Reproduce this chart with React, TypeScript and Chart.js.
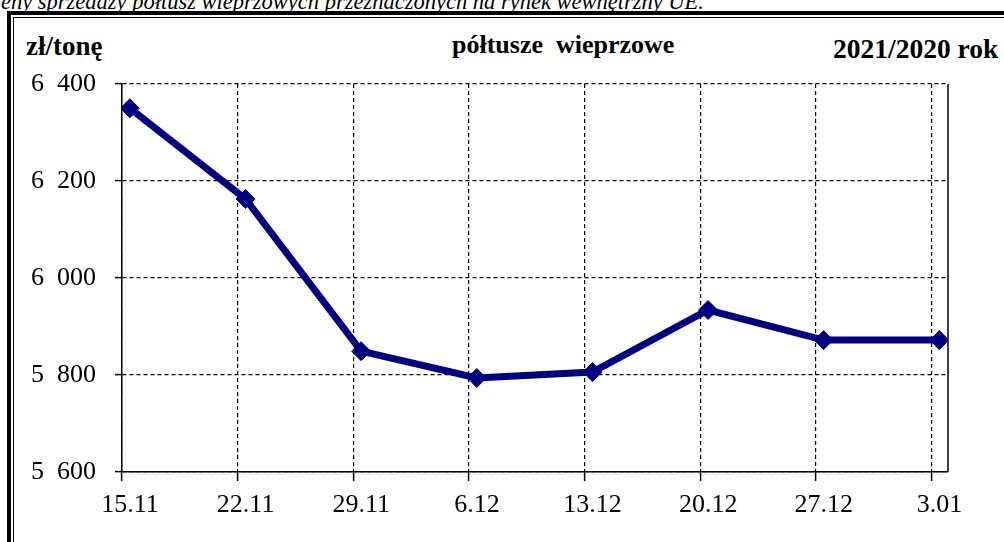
import React, { useEffect, useRef } from "react";
import { Chart, registerables } from "chart.js";

Chart.register(...registerables);

const CATEGORIES = ["15.11", "22.11", "29.11", "6.12", "13.12", "20.12", "27.12", "3.01"];
const PRICES = [6350, 6163, 5849, 5794, 5806, 5934, 5872, 5872];
const Y_MIN = 5600;
const Y_MAX = 6400;
const Y_STEP = 200;

const TITLE_TOP = "Ceny sprzedaży półtusz wieprzowych przeznaczonych na rynek wewnętrzny UE.";
const UNIT_LABEL = "zł/tonę";
const SERIES_LABEL = "półtusze  wieprzowe";
const PERIOD_LABEL = "2021/2020 rok";

// style constants (not data)
const GRID_SHIFT = 0.068; // gridlines sit slightly left of the points
const RIGHT_EXTRA = 0.075;
const SERIF = "'Liberation Serif', 'Times New Roman', serif";

function fmt(v: number): string {
  const th = Math.floor(v / 1000);
  const rest = String(v % 1000).padStart(3, "0");
  return th + "  " + rest;
}

const frameLines = {
  id: "frameLines",
  afterDraw(chart: any) {
    const { ctx, chartArea } = chart;
    ctx.save();
    ctx.strokeStyle = "#000";
    ctx.lineWidth = 1.5;
    ctx.setLineDash([]);
    ctx.beginPath();
    ctx.moveTo(chartArea.right, chartArea.top);
    ctx.lineTo(chartArea.right, chartArea.bottom);
    ctx.stroke();
    ctx.restore();
  },
};

export default function App() {
  const ref = useRef<HTMLCanvasElement | null>(null);

  useEffect(() => {
    if (!ref.current) return;
    const chart = new Chart(ref.current, {
      type: "line",
      data: {
        datasets: [
          {
            data: PRICES.map((p, i) => ({ x: i, y: p })),
            borderColor: "#000080",
            backgroundColor: "#000080",
            borderWidth: 7,
            tension: 0,
            pointStyle: "rectRot",
            pointRadius: 9.5,
            pointBorderWidth: 1,
            pointBackgroundColor: "#000080",
            pointBorderColor: "#000080",
          },
        ],
      },
      options: {
        responsive: false,
        animation: false,
        devicePixelRatio: 1,
        layout: { padding: { left: 0, top: 84, right: 56, bottom: 0 } },
        plugins: { legend: { display: false }, tooltip: { enabled: false } },
        scales: {
          x: {
            type: "linear",
            min: -GRID_SHIFT,
            max: CATEGORIES.length - 1 + RIGHT_EXTRA,
            afterBuildTicks: (scale: any) => {
              scale.ticks = CATEGORIES.map((_, i) => ({ value: i - GRID_SHIFT }));
            },
            afterFit: (scale: any) => {
              scale.height = 70;
            },
            ticks: {
              callback: (_v: any, i: number) => CATEGORIES[i],
              font: { family: SERIF, size: 26 },
              color: "#000",
              padding: 9,
              labelOffset: 8,
              maxRotation: 0,
              autoSkip: false,
            },
            grid: {
              color: "#000",
              lineWidth: 1.2,
              tickLength: 9,
              tickColor: "#000",
              tickWidth: 1.5,
              tickBorderDash: [],
            },
            border: { display: true, color: "#000", width: 1.5, dash: [4, 3] },
          },
          y: {
            min: Y_MIN,
            max: Y_MAX,
            afterFit: (scale: any) => {
              scale.width = 122;
            },
            ticks: {
              stepSize: Y_STEP,
              callback: (v: any) => fmt(Number(v)),
              font: { family: SERIF, size: 26 },
              color: "#000",
              padding: 19,
            },
            grid: {
              color: "#000",
              lineWidth: 1.2,
              tickLength: 7,
              tickColor: "#000",
              tickWidth: 1.5,
              tickBorderDash: [],
            },
            border: { display: true, color: "#000", width: 1.5, dash: [4, 3] },
          },
        },
      },
      plugins: [frameLines],
    });
    return () => chart.destroy();
  }, []);

  return (
    <div
      style={{
        position: "fixed",
        left: 0,
        top: 0,
        width: 1004,
        height: 542,
        overflow: "hidden",
        background: "#fff",
        fontFamily: SERIF,
      }}
    >
      <div
        style={{
          position: "absolute",
          right: 1004 - 704,
          top: -13.5,
          whiteSpace: "nowrap",
          fontStyle: "italic",
          fontSize: 22.5,
          lineHeight: "30px",
        }}
      >
        {TITLE_TOP}
      </div>
      <div
        style={{
          position: "absolute",
          left: 7,
          top: 11,
          width: 1200,
          height: 800,
          borderLeft: "4px solid #000",
          borderTop: "4px solid #000",
        }}
      />
      <div
        style={{
          position: "absolute",
          left: 13,
          top: 17,
          width: 1200,
          height: 800,
          borderLeft: "1.5px solid #000",
          borderTop: "1.5px solid #000",
        }}
      />
      <div style={{ position: "absolute", left: 26, top: 33, fontWeight: "bold", fontSize: 27, lineHeight: "26px", whiteSpace: "nowrap" }}>
        {UNIT_LABEL}
      </div>
      <div style={{ position: "absolute", left: 452, top: 32, fontWeight: "bold", fontSize: 26, lineHeight: "26px", whiteSpace: "pre" }}>
        {SERIES_LABEL}
      </div>
      <div style={{ position: "absolute", left: 833, top: 36, fontWeight: "bold", fontSize: 27.5, lineHeight: "26px", whiteSpace: "nowrap" }}>
        {PERIOD_LABEL}
      </div>
      <canvas
        ref={ref}
        width={1004}
        height={542}
        style={{ position: "absolute", left: 0, top: 0, width: 1004, height: 542 }}
      />
    </div>
  );
}
